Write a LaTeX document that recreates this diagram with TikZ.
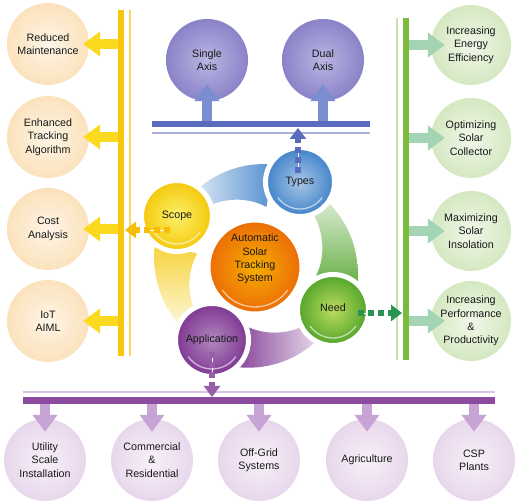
\documentclass[tikz,border=0pt]{standalone}
\usepackage{fontspec}
\setmainfont{Liberation Sans}
\usetikzlibrary{arrows.meta}

\definecolor{yellowbar}{HTML}{F8C70B}
\definecolor{yellowthin}{HTML}{F9D862}
\definecolor{yellowarr}{HTML}{F9DA1E}
\definecolor{greenbar}{HTML}{7CBA3B}
\definecolor{greenthin}{HTML}{C8E1AA}
\definecolor{greenarr}{HTML}{A3D4B3}
\definecolor{bluebar}{HTML}{5A6BBD}
\definecolor{bluethin}{HTML}{A9B2DE}
\definecolor{bluearr}{HTML}{7A8DD0}
\definecolor{purplebar}{HTML}{8B4B9E}
\definecolor{purplethin}{HTML}{D9C3E3}
\definecolor{purplearr}{HTML}{C7A4D5}
\definecolor{peachin}{HTML}{FEF5E6}
\definecolor{peachout}{HTML}{FBE2BC}
\definecolor{mintin}{HTML}{F1F7E9}
\definecolor{mintout}{HTML}{D4E8C1}
\definecolor{lilacin}{HTML}{F7F0F8}
\definecolor{lilacout}{HTML}{E8D7EC}
\definecolor{violetin}{HTML}{BAB5E2}
\definecolor{violetout}{HTML}{8A83C8}
\definecolor{typesc}{HTML}{3F82C9}
\definecolor{scopec}{HTML}{F4C80A}
\definecolor{needc}{HTML}{51A42B}
\definecolor{appc}{HTML}{7E3692}
\definecolor{astc}{HTML}{EC6B06}

\newcommand{\swoosh}[3]{%
	\shade[#3] plot[domain=#1:#2, samples=30, smooth] ({256+(95+8*((#1)-(\x))/((#1)-(#2)))*cos(\x)}, {237+(95+8*((#1)-(\x))/((#1)-(#2)))*sin(\x)})
		-- plot[domain=#2:#1, samples=30, smooth] ({256+(80-20*((#1)-(\x))/((#1)-(#2)))*cos(\x)}, {237+(80-20*((#1)-(\x))/((#1)-(#2)))*sin(\x)}) -- cycle;}

\tikzset{gloss/.style={path picture={\draw[white, line width=1.3pt, opacity=.6] ([shift={(-145:#1)}]path picture bounding box.center) arc[start angle=-145, end angle=-35, radius=#1];}}}

\begin{document}
\begin{tikzpicture}[x=1pt,y=1pt]
	\tikzstyle{every node}=[font=\fontsize{10.7}{13.3}\selectfont, align=center, inner sep=0pt, text=black!90]
	\tikzstyle{pale}=[circle, minimum size=82pt]
	\tikzstyle{peach}=[pale, inner color=peachin, outer color=peachout]
	\tikzstyle{mint}=[pale, minimum size=80pt, inner color=mintin, outer color=mintout]
	\tikzstyle{lilac}=[pale, inner color=lilacin, outer color=lilacout]
	\tikzstyle{violet}=[pale, inner color=violetin, outer color=violetout]
	\tikzstyle{ball}=[circle, draw=white, line width=5pt]
	\tikzstyle{block}=[line width=10pt, -{Triangle[length=17pt,width=24pt]}]
	\tikzstyle{dashy}=[line width=6pt, dash pattern=on 6pt off 4pt, -{Triangle[length=11pt,width=16pt]}, preaction={draw=white, solid, -, shorten >=10pt}]

	\fill[white] (0,0) rectangle (520,503);
	\useasboundingbox (0,0) rectangle (520,503);

	\swoosh{138}{80}{left color=typesc!10, right color=typesc!90}
	\swoosh{50}{-12}{top color=needc!15, bottom color=needc!90}
	\swoosh{318}{258}{right color=appc!10, left color=appc!95}
	\swoosh{228}{168}{bottom color=scopec!6, top color=scopec!80}

	\coordinate (yt) at (121,493);
	\coordinate (yb) at (121,147);
	\coordinate (gt) at (406,485);
	\coordinate (gb) at (406,143);
	\coordinate (bl) at (152,379);
	\coordinate (br) at (370,379);
	\coordinate (pl) at (23,102);
	\coordinate (pr) at (495,102);
	\draw[yellowbar, line width=6pt] (yt) -- (yb);
	\draw[yellowthin, line width=1.8pt] ([xshift=9pt]yt) -- ([xshift=9pt]yb);
	\draw[greenbar, line width=6pt] (gt) -- (gb);
	\draw[greenthin, line width=1.8pt] ([xshift=-9pt]gt) -- ([xshift=-9pt]gb);
	\draw[bluebar, line width=6pt] (bl) -- (br);
	\draw[bluethin, line width=1.8pt] ([yshift=-9pt]bl) -- ([yshift=-9pt]br);
	\draw[purplebar, line width=7pt] (pl) -- (pr);
	\draw[purplethin, line width=1.8pt] ([yshift=9pt]pl) -- ([yshift=9pt]pr);

	\node[peach] (rm) at (48,459) {Reduced\\Maintenance};
	\node[peach] (eta) at (48,366) {Enhanced\\Tracking\\Algorithm};
	\node[peach] (ca) at (48,274) {Cost\\Analysis};
	\node[peach] (iot) at (48,182) {IoT\\AIML};

	\node[mint] (iee) at (471,458) {Increasing\\Energy\\Efficiency};
	\node[mint] (osc) at (471,365) {Optimizing\\Solar\\Collector};
	\node[mint] (msi) at (471,272) {Maximizing\\Solar\\Insolation};
	\node[mint] (ipp) at (471,182) {Increasing\\Performance\\\&\\Productivity};

	\node[violet] (sa) at (207,443) {Single\\Axis};
	\node[violet] (da) at (323,443) {Dual\\Axis};

	\node[lilac] (usi) at (45,43) {Utility\\Scale\\Installation};
	\node[lilac] (cr) at (152,43) {Commercial\\\&\\Residential};
	\node[lilac] (ogs) at (259,43) {Off-Grid\\Systems};
	\node[lilac] (agr) at (367,43) {Agriculture};
	\node[lilac] (csp) at (474,43) {CSP\\Plants};

	\node[ball, inner color=astc!55!yellow, outer color=astc, minimum size=94pt, gloss=40, label={[align=center, yshift=8pt]center:Automatic\\Solar\\Tracking\\System}] (ast) at (255,236) {};
	\node[ball, inner color=typesc!45, outer color=typesc, minimum size=69pt, gloss=27] (types) at (300,321) {Types};
	\node[ball, inner color=scopec!45!yellow!60, outer color=scopec, minimum size=71pt, gloss=28] (scope) at (177,287) {Scope};
	\node[ball, inner color=needc!55!yellow!70, outer color=needc, minimum size=71pt, gloss=28] (need) at (333,193) {\raisebox{4pt}{Need}};
	\node[ball, inner color=appc!60, outer color=appc, minimum size=73pt, gloss=29] (app) at (212,163) {Application};

	\draw[block, yellowarr] ([xshift=-3pt]yt |- rm) -- ([xshift=-6pt]rm.east);
	\draw[block, yellowarr] ([xshift=-3pt]yt |- eta) -- ([xshift=-6pt]eta.east);
	\draw[block, yellowarr] ([xshift=-3pt]yt |- ca) -- ([xshift=-6pt]ca.east);
	\draw[block, yellowarr] ([xshift=-3pt]yt |- iot) -- ([xshift=-6pt]iot.east);

	\draw[block, greenarr] ([xshift=3pt]gt |- iee) -- ([xshift=14pt]iee.west);
	\draw[block, greenarr] ([xshift=3pt]gt |- osc) -- ([xshift=14pt]osc.west);
	\draw[block, greenarr] ([xshift=3pt]gt |- msi) -- ([xshift=14pt]msi.west);
	\draw[block, greenarr] ([xshift=3pt]gt |- ipp) -- ([xshift=14pt]ipp.west);

	\draw[block, bluearr] ([yshift=3pt]sa |- bl) -- ([yshift=17pt]sa.south);
	\draw[block, bluearr] ([yshift=3pt]da |- bl) -- ([yshift=17pt]da.south);

	\draw[block, purplearr] ([yshift=-3.5pt]usi |- pl) -- ([yshift=-13pt]usi.north);
	\draw[block, purplearr] ([yshift=-3.5pt]cr |- pl) -- ([yshift=-13pt]cr.north);
	\draw[block, purplearr] ([yshift=-3.5pt]ogs |- pl) -- ([yshift=-13pt]ogs.north);
	\draw[block, purplearr] ([yshift=-3.5pt]agr |- pl) -- ([yshift=-13pt]agr.north);
	\draw[block, purplearr] ([yshift=-3.5pt]csp |- pl) -- ([yshift=-13pt]csp.north);

	\coordinate (tb) at (298,375);
	\coordinate (sb) at (125,273);
	\coordinate (nb) at (402,190);
	\coordinate (ab) at (212,106);
	\draw[dashy, bluebar] ([shift={(-2,9)}]types.center) -- (tb);
	\draw[dashy, scopec!85!orange] ([shift={(-7,-14)}]scope.center) -- (sb);
	\draw[dashy, needc!50!teal] ([shift={(25,-3)}]need.center) -- (nb);
	\draw[dashy, appc!80] ([yshift=-12pt]app.center) -- (ab);
\end{tikzpicture}
\end{document}
